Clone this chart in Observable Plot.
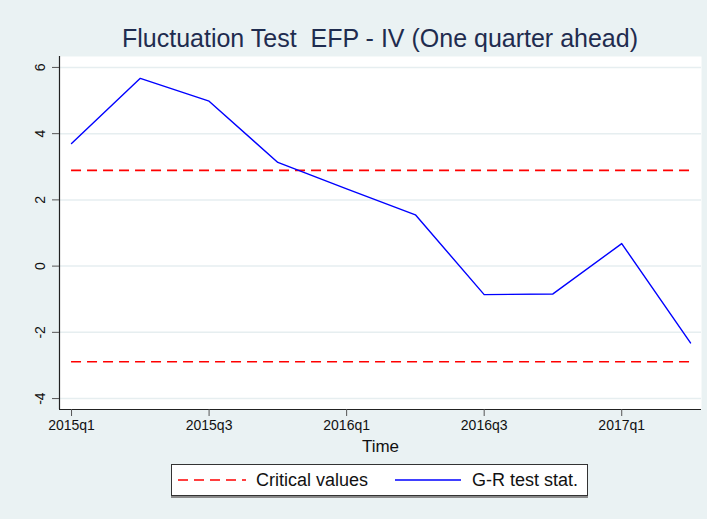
<!DOCTYPE html>
<html>
<head>
<meta charset="utf-8">
<script src="https://cdn.jsdelivr.net/npm/d3@7"></script>
<script src="https://cdn.jsdelivr.net/npm/@observablehq/plot@0.6"></script>
<style>
  html, body { margin: 0; padding: 0; background: #EAF2F3; }
  #wrap { position: relative; width: 707px; height: 519px; background: #EAF2F3; overflow: hidden;
          font-family: "Liberation Sans", Arial, sans-serif; }
  #title { position: absolute; left: 59px; width: 642px; top: 24px; line-height: 28px;
           text-align: center; font-size: 25px; color: #1f2c4f; white-space: nowrap; }
  #legend { position: absolute; left: 171px; top: 464px; width: 415px; height: 30px;
            background: #fff; border: 1px solid #333; box-shadow: 0 2px 0 #8a8a8a; }
  #legend svg { position: absolute; left: 0; top: 0; }
  #legend span { position: absolute; top: 5px; font-size: 18px; line-height: 20px; color: #111; white-space: nowrap; }
  #chart { position: absolute; left: 0; top: 0; }
</style>
</head>
<body>
<div id="wrap">
  <div id="chart"></div>
  <div id="title">Fluctuation Test&nbsp; EFP - IV (One quarter ahead)</div>
  <div id="legend"></div>
</div>
<script>
// ---- data ----
const quarters = ["2015q1","2015q2","2015q3","2015q4","2016q1","2016q2","2016q3","2016q4","2017q1","2017q2"];
const grStat = [3.70, 5.67, 4.98, 3.13, 2.33, 1.55, -0.86, -0.84, 0.68, -2.32];
const criticalValues = [2.89, -2.89];
const yTicks = [-4, -2, 0, 2, 4, 6];
const xTickIdx = [0, 2, 4, 6, 8];
const seriesNames = ["Critical values", "G-R test stat."];
const seriesColors = ["#ff0000", "#0000ff"];

const rows = quarters.map((q, i) => ({i, q, v: grStat[i]}));
const xDomain = [-0.175, 9.16];
const yDomain = [-4.33, 6.33];

const chart = Plot.plot({
  width: 707,
  height: 519,
  marginLeft: 59,
  marginRight: 6,
  marginTop: 56,
  marginBottom: 110,
  style: {background: "transparent", fontFamily: "'Liberation Sans', Arial, sans-serif", fontSize: "14px", color: "#111"},
  x: {domain: xDomain},
  y: {domain: yDomain},
  marks: [
    Plot.frame({fill: "white", stroke: null}),
    Plot.gridY(yTicks, {stroke: "#e6eef0", strokeOpacity: 1, strokeWidth: 1.5}),
    Plot.ruleY(criticalValues, {x1: 0, x2: quarters.length - 1, stroke: seriesColors[0], strokeWidth: 1.6, strokeDasharray: "10,6"}),
    Plot.line(rows, {x: "i", y: "v", stroke: seriesColors[1], strokeWidth: 1.4}),
    Plot.ruleX([xDomain[0]], {stroke: "#222", strokeWidth: 1.2}),
    Plot.ruleY([yDomain[0]], {stroke: "#222", strokeWidth: 1.2}),
    Plot.axisX(xTickIdx, {tickSize: 7, tickPadding: 4, tickFormat: i => quarters[i], label: null, stroke: "#555", fontSize: 14}),
    Plot.axisY(yTicks, {tickSize: 7, tickFormat: () => "", label: null, stroke: "#555"}),
    Plot.text(yTicks, {x: xDomain[0], y: d => d, text: d => String(d), rotate: -90, dx: -19, textAnchor: "middle", lineAnchor: "middle", fontSize: 14, fill: "#111"}),
    Plot.text(["Time"], {frameAnchor: "bottom", dy: 37, lineAnchor: "middle", textAnchor: "middle", fontSize: 17, fill: "#111"})
  ]
});
document.getElementById("chart").appendChild(chart);

// ---- legend ----
const legend = document.getElementById("legend");
const ns = "http://www.w3.org/2000/svg";
const lsvg = document.createElementNS(ns, "svg");
lsvg.setAttribute("width", 415); lsvg.setAttribute("height", 30);
const swatches = [[6, 74, "10,6", 1.6], [223, 289, null, 1.4]];
swatches.forEach(([x1, x2, dash, w], k) => {
  const l = document.createElementNS(ns, "line");
  l.setAttribute("x1", x1); l.setAttribute("x2", x2);
  l.setAttribute("y1", 15); l.setAttribute("y2", 15);
  l.setAttribute("stroke", seriesColors[k]); l.setAttribute("stroke-width", w);
  if (dash) l.setAttribute("stroke-dasharray", dash);
  lsvg.appendChild(l);
});
legend.appendChild(lsvg);
[[84, 0], [300, 1]].forEach(([x, k]) => {
  const s = document.createElement("span");
  s.style.left = x + "px";
  s.textContent = seriesNames[k];
  legend.appendChild(s);
});
</script>
</body>
</html>
